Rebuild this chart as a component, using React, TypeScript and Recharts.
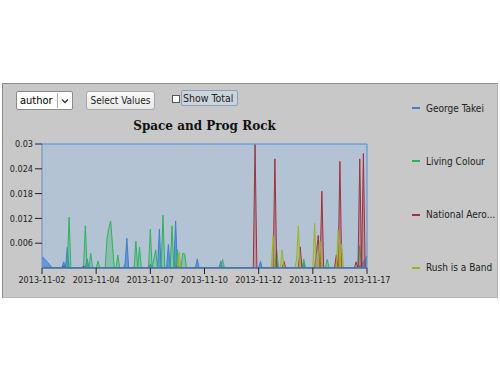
import { Area, AreaChart, CartesianGrid, ReferenceLine, XAxis, YAxis } from "recharts";

const FONT = "'DejaVu Sans Condensed', 'DejaVu Sans', sans-serif";

const hourStep = 2;
const seriesKeys = ["takei", "living", "nasa", "rush"];
const seriesNames = ["George Takei", "Living Colour", "National Aero...", "Rush is a Band"];
const seriesColors = ["#3b7fd6", "#2fb35c", "#a3303c", "#9cb229"];
const seriesFill = [0.65, 0.3, 0.3, 0.3];
const tickHours = [0, 60, 120, 180, 240, 300, 360];
const tickLabels = ["2013-11-02", "2013-11-04", "2013-11-07", "2013-11-10", "2013-11-12", "2013-11-15", "2013-11-17"];
const yTicks = [0.006, 0.012, 0.018, 0.024, 0.03];

// one value every 2 hours, 2013-11-02 00:00 -> 2013-11-17 00:00
const georgeTakei = [
  0.0028, 0.0024, 0.0019, 0.0014, 0.0009, 0.0004, 0, 0, 0, 0,
  0, 0, 0.0015, 0, 0.005, 0, 0, 0, 0, 0,
  0, 0, 0, 0, 0, 0.0022, 0, 0, 0, 0,
  0, 0, 0, 0, 0, 0, 0, 0, 0, 0,
  0, 0, 0, 0, 0, 0, 0.001, 0.0072, 0, 0,
  0, 0, 0, 0, 0, 0, 0, 0, 0, 0,
  0.001, 0, 0, 0, 0, 0.0094, 0, 0, 0, 0,
  0.0057, 0, 0, 0, 0.0114, 0, 0, 0, 0, 0,
  0, 0, 0, 0, 0, 0, 0.0022, 0, 0, 0,
  0, 0, 0, 0, 0, 0, 0, 0, 0, 0.0016,
  0, 0, 0, 0, 0, 0, 0, 0, 0, 0,
  0, 0, 0, 0, 0, 0, 0, 0, 0, 0,
  0, 0.0016, 0, 0, 0, 0, 0, 0, 0, 0,
  0.0015, 0, 0, 0, 0, 0, 0, 0, 0, 0,
  0, 0, 0, 0, 0, 0.0012, 0, 0, 0, 0,
  0, 0, 0, 0, 0, 0, 0, 0, 0, 0,
  0, 0, 0, 0, 0, 0, 0, 0, 0, 0,
  0, 0, 0, 0, 0, 0, 0.0005, 0.001, 0.0015, 0.0021,
  0.0029,
];

const livingColour = [
  0, 0, 0, 0, 0, 0, 0, 0, 0, 0,
  0, 0, 0, 0, 0, 0.0123, 0, 0, 0, 0,
  0, 0, 0, 0, 0.0102, 0, 0, 0.0036, 0, 0,
  0, 0.0017, 0, 0, 0, 0, 0.0072, 0.0096, 0.0114, 0.0058,
  0, 0, 0.0031, 0, 0, 0, 0, 0, 0, 0,
  0, 0, 0.0065, 0, 0.0051, 0, 0, 0, 0, 0,
  0.0094, 0, 0.0022, 0.0044, 0, 0, 0, 0.0128, 0, 0,
  0, 0, 0.0102, 0, 0, 0.0044, 0, 0, 0.0036, 0.0034,
  0, 0, 0, 0, 0, 0, 0, 0, 0, 0,
  0, 0, 0, 0, 0, 0, 0, 0, 0, 0,
  0.0021, 0, 0, 0, 0, 0, 0, 0, 0, 0,
  0, 0, 0, 0, 0, 0, 0, 0, 0, 0,
  0, 0, 0, 0, 0, 0, 0, 0, 0, 0,
  0.0044, 0, 0, 0, 0, 0, 0, 0, 0, 0,
  0, 0, 0, 0, 0, 0.0021, 0, 0, 0, 0,
  0, 0, 0, 0, 0, 0, 0, 0, 0.0021, 0,
  0, 0, 0, 0, 0, 0, 0, 0, 0, 0,
  0, 0, 0, 0, 0, 0, 0.0054, 0, 0, 0,
  0,
];

const nationalAero = [
  0, 0, 0, 0, 0, 0, 0, 0, 0, 0,
  0, 0, 0.0005, 0, 0, 0, 0, 0, 0, 0,
  0, 0, 0, 0.0005, 0, 0, 0, 0, 0, 0,
  0, 0, 0, 0, 0, 0, 0, 0, 0, 0,
  0, 0, 0, 0, 0, 0, 0, 0, 0, 0,
  0, 0, 0, 0, 0, 0, 0, 0, 0, 0,
  0, 0, 0, 0, 0, 0, 0, 0, 0, 0,
  0, 0, 0, 0, 0, 0.0005, 0, 0, 0, 0,
  0, 0, 0, 0, 0, 0, 0, 0, 0, 0,
  0, 0, 0, 0, 0, 0, 0, 0, 0, 0,
  0, 0, 0, 0, 0, 0, 0, 0, 0, 0,
  0, 0, 0, 0, 0, 0, 0, 0, 0.0299, 0,
  0, 0, 0, 0, 0, 0, 0, 0, 0, 0.0264,
  0, 0, 0, 0, 0.0016, 0, 0, 0, 0, 0,
  0, 0, 0, 0.0051, 0, 0, 0, 0, 0, 0,
  0, 0, 0.0036, 0.0079, 0, 0.0186, 0, 0, 0, 0,
  0, 0, 0, 0.0031, 0, 0.0258, 0, 0, 0, 0,
  0, 0, 0, 0, 0.0015, 0, 0.0264, 0, 0.0277, 0,
  0,
];

const rushIsABand = [
  0, 0, 0, 0, 0, 0, 0, 0, 0, 0,
  0, 0, 0, 0, 0, 0, 0, 0, 0, 0,
  0, 0, 0, 0, 0, 0, 0, 0, 0, 0,
  0, 0, 0, 0, 0, 0, 0, 0, 0, 0,
  0, 0, 0, 0, 0, 0, 0, 0, 0, 0,
  0, 0, 0, 0, 0, 0, 0, 0, 0, 0,
  0, 0, 0, 0, 0, 0, 0, 0, 0, 0,
  0, 0, 0, 0, 0, 0, 0.0038, 0, 0, 0,
  0, 0, 0, 0, 0, 0, 0, 0, 0, 0,
  0, 0, 0, 0, 0, 0, 0, 0, 0, 0,
  0, 0, 0, 0, 0, 0, 0, 0, 0, 0,
  0, 0, 0, 0, 0, 0, 0, 0, 0, 0,
  0, 0, 0, 0, 0, 0, 0, 0, 0.0078, 0,
  0, 0, 0, 0.0044, 0, 0, 0, 0, 0, 0,
  0, 0.002, 0.0102, 0, 0, 0, 0, 0, 0, 0,
  0, 0.0108, 0, 0, 0.0066, 0, 0, 0, 0, 0,
  0, 0, 0, 0, 0.0092, 0, 0.0058, 0, 0, 0,
  0, 0, 0, 0, 0, 0, 0, 0, 0, 0,
  0,
];

const rows = georgeTakei.map((v, i) => ({
  hour: i * hourStep,
  takei: v,
  living: livingColour[i],
  nasa: nationalAero[i],
  rush: rushIsABand[i],
}));

function LegendBox() {
  return (
    <div style={{ position: "absolute", left: 412, top: 101, width: 88, height: 180, fontFamily: FONT, fontSize: 10, color: "#222" }}>
      {seriesNames.map((name, k) => (
        <div key={name} style={{ position: "absolute", left: 0, top: k * 53.3, height: 14, display: "flex", alignItems: "center", whiteSpace: "nowrap" }}>
          <span style={{ display: "inline-block", width: 8, height: 2, background: seriesColors[k], marginRight: 6 }} />
          {name}
        </div>
      ))}
    </div>
  );
}

export default function App() {
  return (
    <div style={{ position: "absolute", left: 0, top: 0, width: 500, height: 380, background: "#fff", overflow: "hidden" }}>
      <div style={{ position: "absolute", left: 2, top: 83, width: 494, height: 213, background: "#c8c8c8", border: "1px solid #8c8c8c", borderRightColor: "#b4b4b4", borderBottomColor: "#b4b4b4" }} />

      {/* controls */}
      <div style={{ position: "absolute", left: 16, top: 91, width: 55, height: 17, background: "#fff", border: "1px solid #8a8a8a", borderRadius: 2, fontFamily: FONT, fontSize: 11, display: "flex", alignItems: "center" }}>
        <span style={{ paddingLeft: 3, width: 37 }}>author</span>
        <span style={{ borderLeft: "1px solid #b0b0b0", height: 15, width: 14, display: "flex", alignItems: "center", justifyContent: "center" }}>
          <svg width="8" height="6">
            <polyline points="1,1.5 4,4.5 7,1.5" fill="none" stroke="#333" strokeWidth="1.3" />
          </svg>
        </span>
      </div>
      <div style={{ position: "absolute", left: 86, top: 91, width: 67, height: 17, background: "linear-gradient(#fafafa, #e8e8e8)", border: "1px solid #a8a8a8", borderRadius: 3, fontFamily: FONT, fontSize: 10, display: "flex", alignItems: "center", justifyContent: "center", color: "#222" }}>
        Select Values
      </div>
      <div style={{ position: "absolute", left: 172, top: 95, width: 6, height: 6, background: "#fff", border: "1px solid #555" }} />
      <div style={{ position: "absolute", left: 181, top: 90, width: 54, height: 14, background: "#cdd3da", border: "1px solid #8aa0bc", borderRadius: 2, fontFamily: FONT, fontSize: 10.5, lineHeight: "14px", paddingLeft: 1, color: "#222" }}>
        Show Total
      </div>

      <div style={{ position: "absolute", left: 42, top: 119, width: 325, textAlign: "center", fontFamily: "'DejaVu Serif', serif", fontWeight: "bold", fontSize: 12, lineHeight: "14px", color: "#111" }}>
        Space and Prog Rock
      </div>

      <div style={{ position: "absolute", left: 0, top: 0 }}>
        <AreaChart width={500} height={300} data={rows} margin={{ top: 144, right: 133, bottom: 2, left: 8 }}>
          <CartesianGrid horizontal={false} vertical={false} fill="#b3c3d3" />
          <XAxis
            type="number"
            dataKey="hour"
            domain={[0, 360]}
            ticks={tickHours}
            interval={0}
            tickFormatter={(h: number) => tickLabels[tickHours.indexOf(h)]}
            height={30}
            tickSize={6}
            tickMargin={3}
            tick={{ fontSize: 9, fill: "#222", fontFamily: FONT }}
            axisLine={{ stroke: "#3a6cb4" }}
            tickLine={{ stroke: "#222" }}
          />
          <YAxis
            type="number"
            domain={[0, 0.03]}
            allowDataOverflow
            ticks={yTicks}
            interval={0}
            width={34}
            tickSize={7}
            tickMargin={2}
            tick={{ fontSize: 9, fill: "#222", fontFamily: FONT }}
            axisLine={{ stroke: "#6f8fc4" }}
            tickLine={{ stroke: "#222" }}
          />
          {seriesKeys.map((key, k) => (
            <Area
              key={key}
              type="linear"
              dataKey={key}
              name={seriesNames[k]}
              stroke={seriesColors[k]}
              strokeWidth={1}
              fill={seriesColors[k]}
              fillOpacity={seriesFill[k]}
              dot={false}
              activeDot={false}
              isAnimationActive={false}
            />
          ))}
          <ReferenceLine y={0.03} stroke="#4a8fe2" />
          <ReferenceLine x={360} stroke="#4a8fe2" />
          <ReferenceLine y={0} stroke="#3a6cb4" />
        </AreaChart>
      </div>

      <LegendBox />
    </div>
  );
}
